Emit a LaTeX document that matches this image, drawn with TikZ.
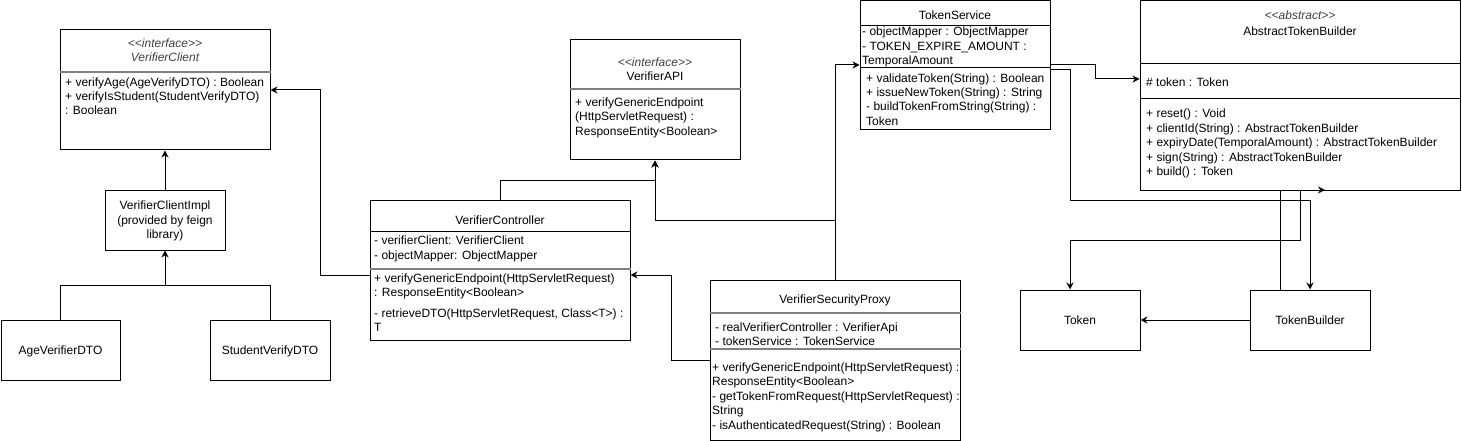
\documentclass[tikz,border=0pt]{standalone}
\usepackage{fontspec}
\setmainfont{Liberation Sans}[Ligatures=TeXOff]
\usetikzlibrary{arrows.meta}
\newcommand\TL[4]{\node[tx] (#1) at (#2,#3) {#4};}
\newcommand\TC[4]{\node[txc] (#1) at (#2,#3) {#4};}
\begin{document}
\begin{tikzpicture}[x=1pt,y=-1pt,
  box/.style={draw=black,line width=1pt,inner sep=0pt,rectangle},
  div/.style={draw=black,line width=1pt},
  gdiv/.style={draw={rgb,255:red,128;green,128;blue,128},line width=1.6pt},
  tx/.style={inner sep=0pt,anchor=base west,font=\fontsize{12}{14.4}\selectfont,text=black},
  txc/.style={tx,anchor=base},
  st/.style={txc,font=\fontsize{12}{14.4}\selectfont\itshape,text=black!75},
  conn/.style={draw=black,line width=1pt,-{Stealth[length=7pt,width=7pt]}},
  wire/.style={draw=black,line width=1pt}]
\useasboundingbox (0,0) rectangle (1462,441);

% ---------- boxes ----------
\node[box,minimum width=210pt,minimum height=120pt] (vc) at (165,90) {};
\node[box,minimum width=120pt,minimum height=60pt] (impl) at (165,220) {};
\node[box,minimum width=119pt,minimum height=60pt] (age) at (60.5,350) {};
\node[box,minimum width=120pt,minimum height=60pt] (stu) at (270,350) {};
\node[box,minimum width=260pt,minimum height=140pt] (ctrl) at (500,270) {};
\node[box,minimum width=170pt,minimum height=120pt] (api) at (655,100) {};
\node[box,minimum width=250pt,minimum height=160pt] (proxy) at (835,360) {};
\node[box,minimum width=190pt,minimum height=129.5pt] (ts) at (955,65.25) {};
\node[box,minimum width=320pt,minimum height=189.5pt] (atb) at (1300,95.25) {};
\node[box,minimum width=120pt,minimum height=60pt] (tok) at (1080,320) {};
\node[box,minimum width=120pt,minimum height=60pt] (tb) at (1310,320) {};

% ---------- dividers ----------
\draw[gdiv] (vc.west |- 0,72) -- (vc.east |- 0,72);
\draw[div] (ctrl.west |- 0,231) -- (ctrl.east |- 0,231);
\draw[gdiv] (ctrl.west |- 0,269) -- (ctrl.east |- 0,269);
\draw[gdiv] (api.west |- 0,89) -- (api.east |- 0,89);
\draw[gdiv] (proxy.west |- 0,313) -- (proxy.east |- 0,313);
\draw[gdiv] (proxy.west |- 0,349) -- (proxy.east |- 0,349);
\draw[div] (ts.west |- 0,26) -- (ts.east |- 0,26);
\draw[div] (ts.west |- 0,68) -- (ts.east |- 0,68);
\draw[div] (atb.west |- 0,64) -- (atb.east |- 0,64);
\draw[div] (atb.west |- 0,99) -- (atb.east |- 0,99);

% ---------- texts ----------
\node[st] (vcs) at (165,48) {<<interface>>};
\node[st] (vcn) at (165,62) {VerifierClient};
\TL{vc1}{65}{87}{+ verifyAge(AgeVerifyDTO) : Boolean}
\TL{vc2}{65}{101}{+ verifyIsStudent(StudentVerifyDTO)}
\TL{vc3}{65}{115}{: Boolean}

\TC{im1}{165}{209}{VerifierClientImpl}
\TC{im2}{165}{224}{(provided by feign}
\TC{im3}{165}{238.5}{library)}

\TC{agt}{60.5}{354}{AgeVerifierDTO}
\TC{stt}{270}{354}{StudentVerifyDTO}

\TC{ct0}{500}{224}{VerifierController}
\TL{ct1}{374}{244.5}{- verifierClient: VerifierClient}
\TL{ct2}{374}{259}{- objectMapper: ObjectMapper}
\TL{ct3}{374}{282}{+ verifyGenericEndpoint(HttpServletRequest)}
\TL{ct4}{374}{296}{: ResponseEntity<Boolean>}
\TL{ct5}{374}{317}{- retrieveDTO(HttpServletRequest, Class<T>) :}
\TL{ct6}{374}{331}{T}

\node[st] (aps) at (655,67) {<<interface>>};
\TC{apn}{655}{81}{VerifierAPI}
\TL{ap1}{575}{107}{+ verifyGenericEndpoint}
\TL{ap2}{575}{121}{(HttpServletRequest) :}
\TL{ap3}{575}{136}{ResponseEntity<Boolean>}

\TC{px0}{835}{303}{VerifierSecurityProxy}
\TL{px1}{715}{331}{- realVerifierController : VerifierApi}
\TL{px2}{715}{345}{- tokenService : TokenService}
\TL{px3}{712}{371}{+ verifyGenericEndpoint(HttpServletRequest) :}
\TL{px4}{712}{385.5}{ResponseEntity<Boolean>}
\TL{px5}{712}{400}{- getTokenFromRequest(HttpServletRequest) :}
\TL{px6}{712}{414.5}{String}
\TL{px7}{712}{429}{- isAuthenticatedRequest(String) : Boolean}

\TC{ts0}{955}{20}{TokenService}
\TL{ts1}{862}{36}{- objectMapper : ObjectMapper}
\TL{ts2}{862}{50.5}{- TOKEN\_EXPIRE\_AMOUNT :}
\TL{ts3}{862}{65}{TemporalAmount}
\TL{ts4}{866}{82.5}{+ validateToken(String) : Boolean}
\TL{ts5}{866}{97}{+ issueNewToken(String) : String}
\TL{ts6}{866}{111}{- buildTokenFromString(String) :}
\TL{ts7}{866}{125.5}{Token}

\node[st] (abs) at (1300,20) {<<abstract>>};
\TC{abn}{1300}{36}{AbstractTokenBuilder}
\TL{ab1}{1146}{87}{\# token : Token}
\TL{ab2}{1146}{118}{+ reset() : Void}
\TL{ab3}{1146}{132.5}{+ clientId(String) : AbstractTokenBuilder}
\TL{ab4}{1146}{147}{+ expiryDate(TemporalAmount) : AbstractTokenBuilder}
\TL{ab5}{1146}{161}{+ sign(String) : AbstractTokenBuilder}
\TL{ab6}{1146}{175.5}{+ build() : Token}

\TC{tkt}{1080}{324}{Token}
\TC{tbt}{1310}{324}{TokenBuilder}

% ---------- connectors ----------
\draw[conn] (impl.north) -- (vc.south);
\draw[conn] (age.north) -- (age.north |- 0,285) -- (impl.south |- 0,285) -- (impl.south);
\draw[wire] (stu.north) -- (stu.north |- 0,285) -- (impl.south |- 0,285);
\draw[conn] (ctrl.west |- 0,275) -- (320,275) -- (320,90) -- (vc.east |- 0,90);
\draw[conn] (ctrl.north) -- (ctrl.north |- 0,180) -- (api.south |- 0,180) -- (api.south);
\draw[conn] (proxy.north) -- (proxy.north |- 0,220) -- (api.south |- 0,220) -- (api.south);
\draw[conn] (proxy.north) -- (proxy.north |- 0,65) -- (ts.west |- 0,65);
\draw[conn] (proxy.west |- 0,360) -- (671,360) -- (671,275) -- (ctrl.east |- 0,275);
\draw[conn] (ts.east |- 0,65) -- (1095,65) -- (1095,79) -- (atb.west |- 0,79);
\draw[conn] (ts.east |- 0,70) -- (1070,70) -- (1070,200) -- (tb.north |- 0,200) -- (tb.north);
\draw[conn] (atb.south) -- (atb.south |- 0,240) -- (1070,240) -- (tok.north -| 1070,0);
\draw[conn] (tb.north -| 1280,0) -- (1280,190) -- (1325,190);
\draw[conn] (tb.west) -- (tok.east);
\end{tikzpicture}
\end{document}
